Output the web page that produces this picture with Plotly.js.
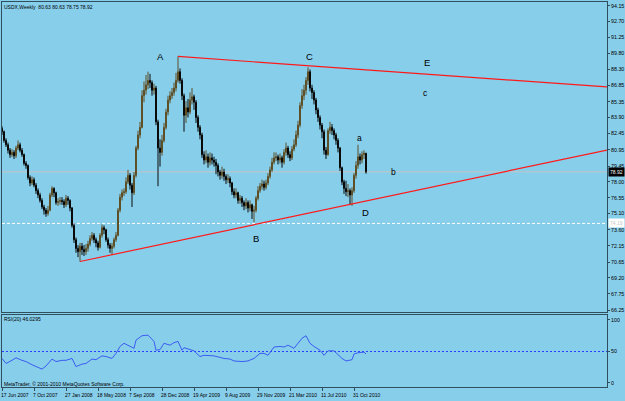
<!DOCTYPE html>
<html>
<head>
<meta charset="utf-8">
<script src="https://cdn.plot.ly/plotly-3.0.1.min.js"></script>
<style>html,body{margin:0;padding:0;background:#87CEEB;}#chart{width:625px;height:401px;}</style>
</head>
<body>
<div id="chart"></div>
<script>
// ---- data (USDX weekly, bar index 0 = 17 Jun 2007) ----
const openVals = [82.9,82.6,81.8,81.4,80.9,80.5,80.7,80.4,81.1,81.4,
80.9,80.5,79.7,79.5,78.4,77.9,78.2,77.7,77.2,76.8,
76.3,75.7,75.4,75.1,75.4,76.8,77.4,77.0,76.1,76.2,
76.3,76.2,75.9,76.5,76.3,75.6,74.0,72.7,71.9,71.6,
72.1,71.8,71.6,71.9,72.3,72.8,73.1,72.7,72.4,72.0,
73.1,73.8,73.6,72.7,72.2,71.9,72.1,72.7,73.1,75.4,
76.6,77.0,77.1,78.0,78.6,77.7,77.0,78.6,81.1,82.3,
83.0,85.9,86.4,86.9,87.3,87.1,86.4,86.6,83.5,81.1,
80.7,81.8,83.0,84.4,85.5,85.9,86.2,86.6,87.3,88.1,
87.3,85.9,84.1,84.8,84.4,85.5,85.8,85.3,83.9,83.0,
82.3,80.5,80.0,80.3,79.8,80.2,80.0,79.8,79.5,78.9,
78.6,78.9,78.5,78.2,78.3,77.9,77.1,76.8,77.0,76.3,
76.5,76.1,75.8,76.1,75.6,75.9,75.3,75.4,76.5,77.2,
77.6,77.8,77.5,77.9,78.5,79.1,79.8,80.2,80.3,80.0,
80.2,79.8,80.7,81.1,80.5,80.2,81.0,81.4,82.3,83.2,
85.0,85.9,86.4,87.3,88.1,86.6,86.2,85.5,84.6,83.9,
83.2,82.6,80.9,80.5,82.7,83.0,82.7,82.3,81.8,81.1,
79.3,78.0,77.4,77.1,77.2,76.8,77.2,78.6,79.5,80.3,
80.0,80.5,80.63];
const highVals = [83.1,82.7,82.0,81.6,81.1,81.0,80.9,81.3,81.8,81.6,
81.1,80.6,79.9,79.6,78.6,78.5,78.4,77.9,77.4,77.0,
76.5,75.9,75.6,75.8,77.0,77.6,77.5,77.1,76.5,76.6,
76.6,76.4,76.8,76.7,76.4,75.7,74.2,72.9,72.2,72.4,
72.4,72.2,72.3,72.6,73.1,73.4,73.3,72.9,72.6,73.3,
74.1,74.0,73.7,72.9,72.4,72.4,72.9,73.4,75.6,76.9,
77.3,77.4,78.4,79.1,78.8,77.9,78.9,81.3,82.7,83.5,
86.4,87.2,87.8,88.1,87.9,87.3,87.0,86.8,83.7,81.9,
82.3,83.4,84.7,85.9,86.3,86.6,87.1,88.0,89.5,88.4,
87.5,86.1,85.4,85.6,86.2,86.6,86.0,85.5,84.1,83.2,
82.5,80.8,80.9,80.6,80.7,80.6,80.3,80.1,79.7,79.1,
79.4,79.2,78.7,78.7,78.5,78.0,77.4,77.4,77.1,76.8,
76.7,76.3,76.5,76.3,76.3,76.0,75.8,76.7,77.6,77.9,
78.2,78.1,78.2,78.8,79.4,80.2,80.7,80.7,80.5,80.6,
80.4,81.0,81.6,81.3,80.8,81.3,81.9,82.7,83.6,85.3,
86.5,86.9,87.6,88.5,88.3,86.9,86.4,85.7,84.8,84.1,
83.4,82.8,81.2,82.9,83.5,83.3,82.9,82.5,82.0,81.2,
79.4,78.2,78.1,77.8,77.4,77.5,78.8,79.9,81.4,80.6,
80.8,80.9,80.63];
const lowVals = [82.3,81.6,81.2,80.6,80.2,80.3,80.1,80.2,80.9,80.7,
80.3,79.5,79.2,78.2,77.6,77.7,77.5,76.9,76.5,76.1,
75.5,75.0,74.8,74.9,75.3,76.6,76.6,75.9,75.8,75.9,
75.9,75.6,75.7,75.9,75.3,73.8,72.4,71.5,71.1,70.7,
71.3,71.2,71.3,71.6,72.1,72.6,72.4,72.0,71.7,71.9,
72.9,73.2,72.5,71.9,71.5,71.3,71.9,72.5,73.0,75.2,
76.3,76.7,76.9,77.8,77.3,75.7,76.8,78.4,80.9,82.0,
82.9,85.3,86.0,86.5,86.6,85.9,86.0,83.2,77.6,79.4,
80.4,81.6,82.8,84.1,85.2,85.6,85.9,86.3,87.1,87.0,
85.5,82.6,83.4,83.9,84.2,85.1,84.6,83.4,82.6,81.9,
80.2,79.6,79.7,79.3,79.5,79.6,79.4,78.7,78.5,78.2,
78.3,78.1,77.8,77.9,77.5,76.8,76.5,76.5,76.0,76.0,
75.7,75.4,75.5,75.2,75.3,74.6,74.3,75.2,76.3,77.0,
77.3,77.2,77.3,77.7,78.3,78.9,79.6,79.9,79.6,79.7,
79.3,79.6,80.4,80.2,79.9,80.0,80.8,81.2,82.0,83.0,
84.7,85.5,86.0,86.9,86.3,85.6,85.1,84.2,83.5,82.8,
82.0,80.5,80.1,80.4,82.4,82.3,81.9,81.4,80.7,79.0,
77.7,76.9,76.7,76.6,75.9,75.8,77.0,78.3,79.2,79.6,
79.7,80.1,78.75];
const closeVals = [82.6,81.8,81.4,80.9,80.5,80.7,80.4,81.1,81.4,80.9,
80.5,79.7,79.5,78.4,77.9,78.2,77.7,77.2,76.8,76.3,
75.7,75.4,75.1,75.4,76.8,77.4,77.0,76.1,76.2,76.3,
76.2,75.9,76.5,76.3,75.6,74.0,72.7,71.9,71.6,72.1,
71.8,71.6,71.9,72.3,72.8,73.1,72.7,72.4,72.0,73.1,
73.8,73.6,72.7,72.2,71.9,72.1,72.7,73.1,75.4,76.6,
77.0,77.1,78.0,78.6,77.7,77.0,78.6,81.1,82.3,83.0,
85.9,86.4,86.9,87.3,87.1,86.4,86.6,83.5,81.1,80.7,
81.8,83.0,84.4,85.5,85.9,86.2,86.6,87.3,88.1,87.3,
85.9,84.1,84.8,84.4,85.5,85.8,85.3,83.9,83.0,82.3,
80.5,80.0,80.3,79.8,80.2,80.0,79.8,79.5,78.9,78.6,
78.9,78.5,78.2,78.3,77.9,77.1,76.8,77.0,76.3,76.5,
76.1,75.8,76.1,75.6,75.9,75.3,75.4,76.5,77.2,77.6,
77.8,77.5,77.9,78.5,79.1,79.8,80.2,80.3,80.0,80.2,
79.8,80.7,81.1,80.5,80.2,81.0,81.4,82.3,83.2,85.0,
85.9,86.4,87.3,88.1,86.6,86.2,85.5,84.6,83.9,83.2,
82.6,80.9,80.5,82.7,83.0,82.7,82.3,81.8,81.1,79.3,
78.0,77.4,77.1,77.2,76.8,77.2,78.6,79.5,80.3,80.0,
80.5,80.63,78.92];

const rsiIdx = [0,2,5,7,10,12,15,17,20,22,25,27,30,32,35,37,40,42,45,47,50,52,55,57,59,61,63,66,67,70,73,76,77,79,81,84,86,88,90,91,94,96,99,101,106,111,114,116,120,123,126,129,131,133,136,139,141,143,146,148,150,152,154,156,159,161,163,166,167,170,172,175,176,178,181,182];
const rsiVals = [39,31,36,40,36,34,29,26,22,27,38,34,36,36,39,26,30,31,38,37,43,42,39,47,58,63,60,55,68,75,76,66,52,53,63,60,64,66,52,56,53,51,42,44,43,39,38,35,34,35,39,47,47,44,57,58,57,60,55,63,71,75,63,58,52,44,51,51,48,39,35,37,46,48,49,46.03];
const rsiLast = "46.0295";

const dateLabels = ["17 Jun 2007","7 Oct 2007","27 Jan 2008","18 May 2008","7 Sep 2008","28 Dec 2008","19 Apr 2009","9 Aug 2009","29 Nov 2009","21 Mar 2010","11 Jul 2010","31 Oct 2010"];
const dateLabelIdx = [0,16,32,48,64,80,96,112,128,144,160,176];

const priceTicks = [94.15,92.70,91.25,89.80,88.30,86.85,85.35,83.90,82.45,80.95,79.45,78.00,76.55,75.10,73.60,72.15,70.65,69.20,67.75,66.25];
const rsiTicks = [0,50,100];

// trend lines (bar index, price)
const upperLineIdx = [88, 302.5];
const upperLineVal = [89.5, 86.7];
const lowerLineIdx = [39, 302.5];
const lowerLineVal = [70.7, 80.92];
const hLineLevel = 74.19;

const waveLabels = ["A","B","C","D","E","a","b","c"];
const waveIdx = [79, 127, 153.5, 181.5, 212.5, 178.5, 195.5, 211.5];
const waveVal = [89.45, 72.85, 89.5, 75.15, 88.9, 82.0, 78.9, 86.15];

// ---- chart ----
const barIdx = closeVals.map((_, i) => i);
const n = closeVals.length;
const lastClose = closeVals[n - 1];
const FONT = "Liberation Sans, Arial, sans-serif";
const SMALL = 5;
const frame = "#2f4f5f";

const traces = [
  {type: "candlestick", x: barIdx, open: openVals, high: highVals, low: lowVals, close: closeVals,
   xaxis: "x", yaxis: "y", whiskerwidth: 0, hoverinfo: "skip",
   increasing: {line: {color: "#5e4f26", width: 1}, fillcolor: "#917a38"},
   decreasing: {line: {color: "#0a0a0a", width: 1}, fillcolor: "#0a0a0a"}},
  {type: "scatter", mode: "lines", x: upperLineIdx, y: upperLineVal, xaxis: "x", yaxis: "y",
   line: {color: "#ff1a1a", width: 1.2}, hoverinfo: "skip"},
  {type: "scatter", mode: "lines", x: lowerLineIdx, y: lowerLineVal, xaxis: "x", yaxis: "y",
   line: {color: "#ff1a1a", width: 1.2}, hoverinfo: "skip"},
  {type: "scatter", mode: "lines", x: rsiIdx, y: rsiVals, xaxis: "x2", yaxis: "y2",
   line: {color: "#3b5cf0", width: 1}, hoverinfo: "skip"}
];

const annotations = [];
waveLabels.forEach((t, i) => annotations.push({
  text: t, x: waveIdx[i], y: waveVal[i], xref: "x", yref: "y", showarrow: false,
  font: {family: FONT, size: t === t.toUpperCase() ? 9.5 : 8.5, color: "#000"}
}));
dateLabels.forEach((t, i) => annotations.push({
  text: t, x: dateLabelIdx[i], y: 0, xref: "x2", yref: "paper", xanchor: "left", yanchor: "top",
  xshift: -2, yshift: -4, showarrow: false, borderpad: 0,
  font: {family: FONT, size: SMALL, color: "#000"}
}));
annotations.push({
  text: "USDX,Weekly  " + openVals[n-1].toFixed(2) + " " + highVals[n-1].toFixed(2) + " " + lowVals[n-1].toFixed(2) + " " + lastClose.toFixed(2),
  xref: "paper", yref: "paper", x: 0, y: 1, xanchor: "left", yanchor: "top", xshift: 1, yshift: -1,
  showarrow: false, borderpad: 0, font: {family: FONT, size: SMALL, color: "#000"}
});
annotations.push({
  text: "RSI(20) " + rsiLast, xref: "paper", yref: "y2", x: 0, y: 100, xanchor: "left", yanchor: "middle",
  xshift: 1, yshift: 1, showarrow: false, borderpad: 0, font: {family: FONT, size: SMALL, color: "#000"}
});
annotations.push({
  text: "MetaTrader, © 2001-2010 MetaQuotes Software Corp.", xref: "paper", yref: "paper", x: 0, y: 0,
  xanchor: "left", yanchor: "bottom", xshift: 1, yshift: -1, showarrow: false, borderpad: 0,
  font: {family: FONT, size: SMALL, color: "#000"}
});
annotations.push({
  text: lastClose.toFixed(2), xref: "paper", yref: "y", x: 1, y: lastClose, xanchor: "left", yanchor: "middle",
  xshift: 1, showarrow: false, bgcolor: "#000", borderpad: 1, font: {family: FONT, size: SMALL, color: "#fff"}
});
annotations.push({
  text: hLineLevel.toFixed(2), xref: "paper", yref: "y", x: 1, y: hLineLevel, xanchor: "left", yanchor: "middle",
  xshift: 1, showarrow: false, bgcolor: "#ffffff", borderpad: 1, font: {family: FONT, size: SMALL, color: "#c8c8c8"}
});

const layout = {
  width: 625, height: 401,
  margin: {l: 2, r: 18, t: 2, b: 14, pad: 0},
  paper_bgcolor: "#87CEEB", plot_bgcolor: "#87CEEB",
  showlegend: false,
  font: {family: FONT, size: SMALL, color: "#000"},
  xaxis: {domain: [0, 1], anchor: "y", range: [0, 302.5], showgrid: false, zeroline: false,
    showline: true, mirror: true, linecolor: frame, linewidth: 1, showticklabels: false, ticks: "",
    rangeslider: {visible: false}, fixedrange: true},
  xaxis2: {domain: [0, 1], anchor: "y2", matches: "x", range: [0, 302.5], showgrid: false, zeroline: false,
    showline: true, mirror: true, linecolor: frame, linewidth: 1, showticklabels: false,
    ticks: "outside", ticklen: 3, tickcolor: frame, tickvals: dateLabelIdx, fixedrange: true},
  yaxis: {domain: [0.1948, 1], anchor: "x", side: "right", range: [66.07, 94.49], showgrid: false, zeroline: false,
    showline: true, mirror: true, linecolor: frame, linewidth: 1, ticks: "outside", ticklen: 2, tickcolor: frame,
    tickvals: priceTicks, ticktext: priceTicks.map(v => v.toFixed(2)),
    tickfont: {family: FONT, size: 5.3, color: "#000"}, fixedrange: true},
  yaxis2: {domain: [0, 0.187], anchor: "x2", side: "right", range: [-6.35, 107.9], showgrid: false, zeroline: false,
    showline: true, mirror: true, linecolor: frame, linewidth: 1, ticks: "outside", ticklen: 2, tickcolor: frame,
    tickvals: rsiTicks, ticktext: rsiTicks.map(String),
    tickfont: {family: FONT, size: 5.3, color: "#000"}, fixedrange: true},
  shapes: [
    {type: "line", xref: "paper", x0: 0, x1: 1, yref: "y", y0: lastClose, y1: lastClose, layer: "below",
     line: {color: "#c4c4c4", width: 1}},
    {type: "line", xref: "paper", x0: 0, x1: 1, yref: "y", y0: hLineLevel, y1: hLineLevel, layer: "below",
     line: {color: "#ffffff", width: 1, dash: "3px,2px"}},
    {type: "line", xref: "paper", x0: 0, x1: 1, yref: "y2", y0: 50, y1: 50, layer: "below",
     line: {color: "#2a3cff", width: 1, dash: "2px,2px"}}
  ],
  annotations: annotations
};

Plotly.newPlot("chart", traces, layout, {staticPlot: true, displayModeBar: false});
</script>
</body>
</html>
